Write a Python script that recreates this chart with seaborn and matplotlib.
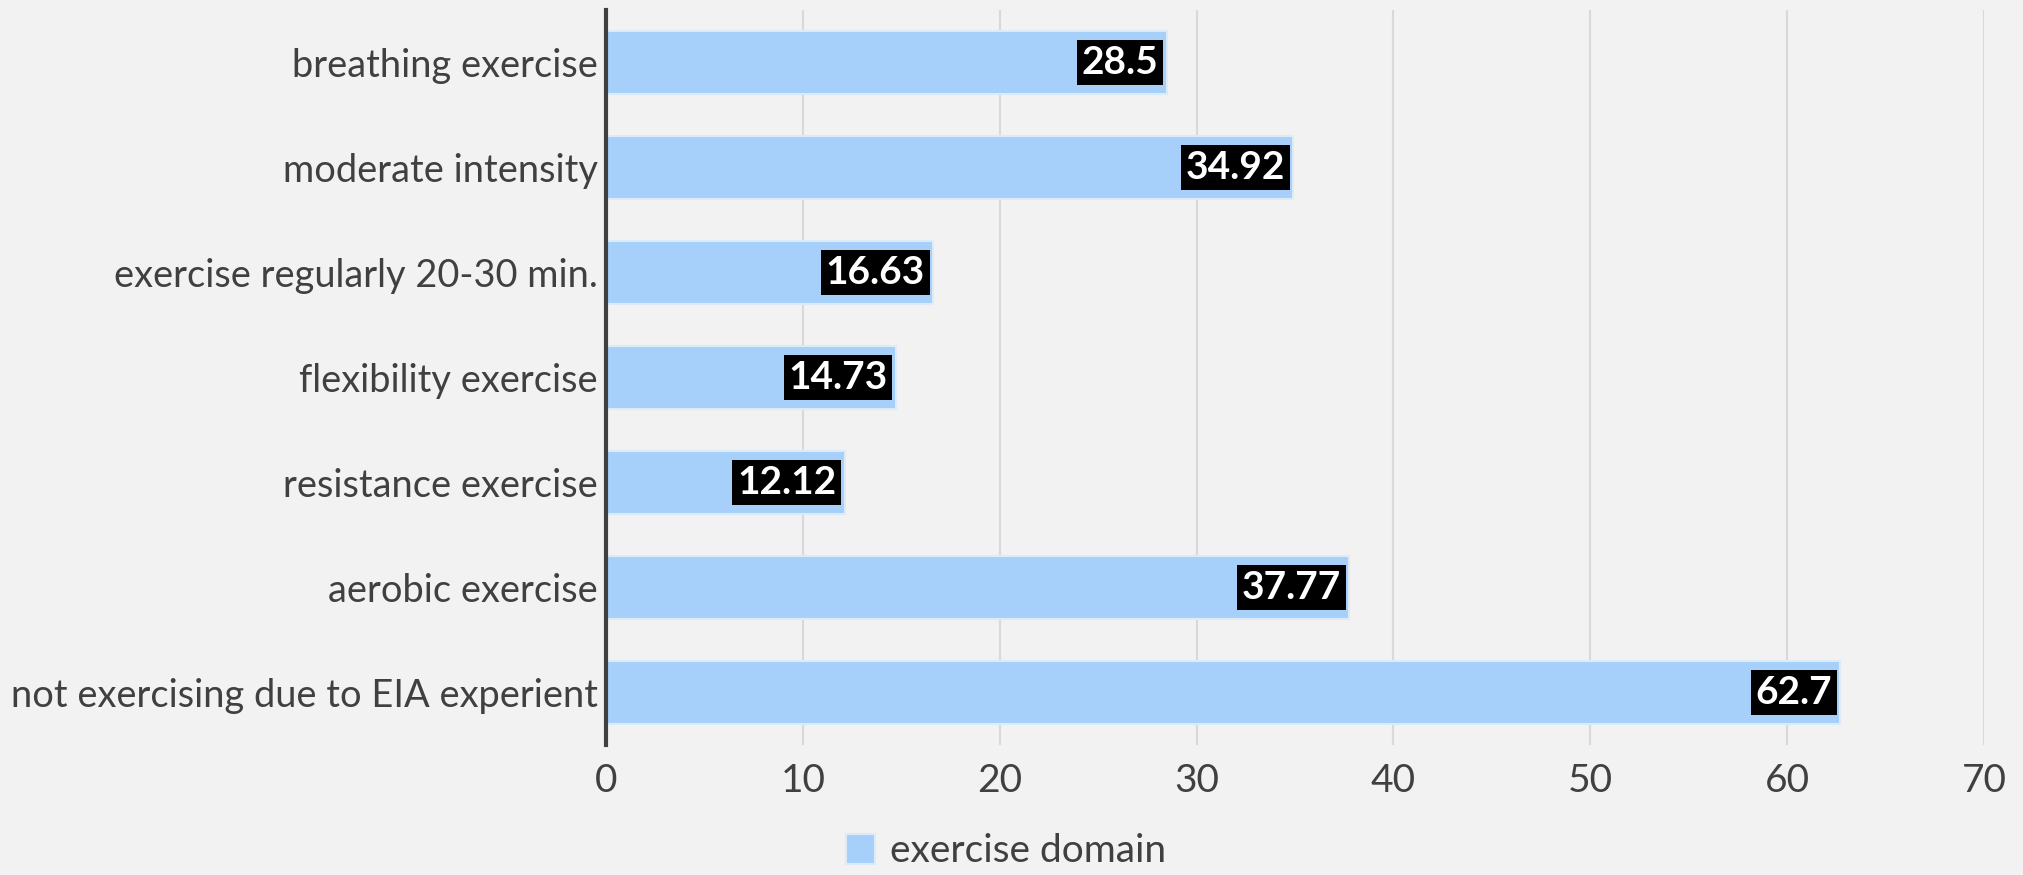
import matplotlib
matplotlib.use("Agg")
import matplotlib.pyplot as plt
import seaborn as sns
import pandas as pd

categories = [
    "breathing exercise",
    "moderate intensity",
    "exercise regularly 20-30 min.",
    "flexibility exercise",
    "resistance exercise",
    "aerobic exercise",
    "not exercising due to EIA experient",
]
values = [28.5, 34.92, 16.63, 14.73, 12.12, 37.77, 62.7]
value_labels = ["28.5", "34.92", "16.63", "14.73", "12.12", "37.77", "62.7"]
series_name = "exercise domain"
x_ticks = [0, 10, 20, 30, 40, 50, 60, 70]

df = pd.DataFrame({"category": categories, "value": values})

sns.set_theme(style="white")
plt.rcParams["font.family"] = ["Lato", "DejaVu Sans"]

bg = "#F2F2F2"
bar_color = "#A6D0FA"
text_color = "#404040"

fig = plt.figure(figsize=(20.24, 8.75), dpi=100, facecolor=bg)
ax = fig.add_axes([0.2994, 0.1486, 0.6808, 0.8400])
ax.set_facecolor(bg)

sns.barplot(data=df, x="value", y="category", orient="h", color=bar_color,
            saturation=1, width=0.6, edgecolor="#DDEBF8", linewidth=1.5,
            ax=ax, zorder=2, label=series_name)

ax.set_xlim(0, 70)
ax.set_xticks(x_ticks)
ax.set_xticklabels([str(t) for t in x_ticks])
ax.grid(axis="x", color="#D9D9D9", linewidth=1.5, zorder=0)
ax.set_axisbelow(True)
ax.set_xlabel("")
ax.set_ylabel("")

for s in ["top", "right", "bottom"]:
    ax.spines[s].set_visible(False)
ax.spines["left"].set_color(text_color)
ax.spines["left"].set_linewidth(3)
ax.spines["left"].set_zorder(5)

ax.tick_params(axis="x", length=0, pad=13, labelsize=28, labelcolor=text_color)
ax.tick_params(axis="y", length=0, pad=6, labelsize=27.4, labelcolor=text_color)

for i, (v, lab) in enumerate(zip(values, value_labels)):
    ax.annotate(lab, xy=(v, i), xytext=(-6, 0), textcoords="offset points",
                ha="right", va="center", fontsize=28, fontweight="bold",
                color="white", zorder=6,
                bbox=dict(boxstyle="square,pad=0.12", facecolor="black",
                          edgecolor="none"))

leg = ax.legend(loc="center", bbox_to_anchor=(0.497, 0.027),
                bbox_transform=fig.transFigure, frameon=False,
                fontsize=28, handlelength=0.75, handleheight=0.8,
                handletextpad=0.4)
for t in leg.get_texts():
    t.set_color(text_color)

fig.savefig("out.png", dpi=100, facecolor=bg)
